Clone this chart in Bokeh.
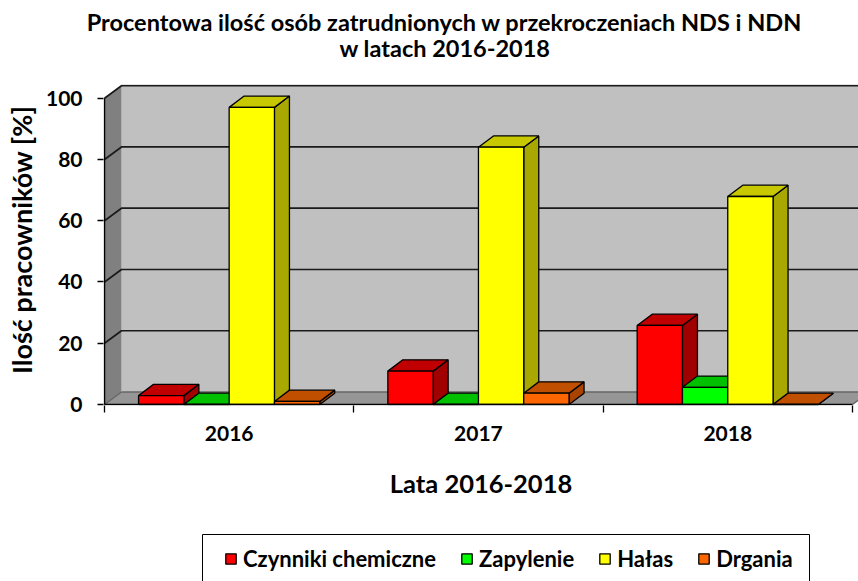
import math
from bokeh.plotting import figure
from bokeh.models import Range1d, FixedTicker, Legend, LegendItem
from bokeh.layouts import column, row
from bokeh.core.properties import value
from bokeh.embed import file_html
from bokeh.resources import INLINE

# ---------------- data ----------------
years = ["2016", "2017", "2018"]
series_names = ["Czynniki chemiczne", "Zapylenie", "Hałas", "Drgania"]
chem = [2.9, 10.9, 25.8]
dust = [0.0, 0.0, 5.6]
noise = [97.0, 84.0, 67.9]
vib = [1.0, 3.7, 0.0]
y_ticks = [0, 20, 40, 60, 80, 100]
title_1 = "Procentowa ilość osób zatrudnionych w przekroczeniach NDS i NDN"
title_2 = "w latach 2016-2018"
x_title = "Lata 2016-2018"
y_title = "Ilość pracowników [%]"

# ---------------- styles ----------------
values = [chem, dust, noise, vib]
front_colors = ["#FF0000", "#00FF00", "#FFFF00", "#FF6600"]
top_colors = ["#C00000", "#00C000", "#C8C800", "#C05000"]
side_colors = ["#A00000", "#00A000", "#A8A800", "#A84400"]
FONT = "Lato"

PX_X = 249.3   # pixels per category
PX_Y = 3.063   # pixels per percent
n = len(years)
ns = len(series_names)
bw = 45.3 / PX_X
gap = (1 - ns * bw) / 2
dxb, dyb = 15 / PX_X, 11.3 / PX_Y      # bar depth
dxw, dyw = 17 / PX_X, 12.5 / PX_Y      # wall depth
ymax = y_ticks[-1]

W_TOT, H_TOT = 858, 581
W_Y = 42                    # y-title strip
W_C = W_TOT - W_Y           # chart
H_T = 84                    # title strip
H_L = 61                    # legend strip
H_C = H_TOT - H_L - H_T     # chart
frame_w, frame_h = 755, 321
x_start = -1 / PX_X
y_start = -1 / PX_Y


def blank(w, h):
    f = figure(width=w, height=h, x_range=Range1d(0, w), y_range=Range1d(0, h),
               output_backend="svg", toolbar_location=None, title_location=None,
               x_axis_location=None, y_axis_location=None,
               min_border_left=0, min_border_right=0, min_border_top=0, min_border_bottom=0)
    f.outline_line_color = None
    f.xgrid.visible = False
    f.ygrid.visible = False
    return f


# ---------------- chart ----------------
p = figure(width=W_C, height=H_C,
           x_range=Range1d(x_start, x_start + frame_w / PX_X),
           y_range=Range1d(y_start, y_start + frame_h / PX_Y),
           output_backend="svg", toolbar_location=None, title_location=None,
           min_border_left=W_C - frame_w, min_border_right=0,
           min_border_top=0, min_border_bottom=H_C - frame_h)
p.outline_line_color = None
p.xgrid.visible = False
p.ygrid.visible = False
p.background_fill_color = "white"
p.border_fill_color = "white"

# walls & floor
p.quad(left=[dxw], right=[n + dxw + 0.2], bottom=[dyw], top=[ymax + dyw],
       fill_color="#C0C0C0", line_color=None)
p.patch([0, dxw, dxw, 0], [0, dyw, ymax + dyw, ymax],
        fill_color="#808080", line_color=None)
p.patch([0, n, n + dxw, dxw], [0, 0, dyw, dyw],
        fill_color="#969696", line_color=None)
p.multi_line([[dxw, n + dxw], [0, dxw], [n, n + dxw]],
             [[dyw, dyw], [0, dyw], [0, dyw]],
             line_color="#666666", line_width=1.5)
gx, gy = [], []
for v in y_ticks[1:]:
    gx.append([0, dxw, n + dxw + 0.2])
    gy.append([v, v + dyw, v + dyw])
p.multi_line(gx, gy, line_color="#1a1a1a", line_width=1.7)

# bars (side, top, front), painted left to right
for j in range(ns):
    vals = values[j]
    x0 = [i + gap + j * bw for i in range(n)]
    x1 = [a + bw for a in x0]
    side_xs = [[b, b, b + dxb, b + dxb] for b in x1]
    side_ys = [[0, h, h + dyb, dyb] for h in vals]
    top_xs = [[a, b, b + dxb, a + dxb] for a, b in zip(x0, x1)]
    top_ys = [[h, h, h + dyb, h + dyb] for h in vals]
    p.patches(side_xs, side_ys, fill_color=side_colors[j], line_color="black", line_width=1.3)
    p.patches(top_xs, top_ys, fill_color=top_colors[j], line_color="black", line_width=1.3)
    p.quad(left=x0, right=x1, bottom=[0] * n, top=vals,
           fill_color=front_colors[j], line_color="black", line_width=1.3)

p.line([0, 0], [0, ymax], line_color="black", line_width=1.5)
p.line([0, n], [0, 0], line_color="black", line_width=1.5)

# axes
xa = p.xaxis[0]
xa.ticker = FixedTicker(ticks=[i + 0.5 for i in range(n)], minor_ticks=list(range(n + 1)))
xa.major_label_overrides = {i + 0.5: years[i] for i in range(n)}
xa.axis_line_color = None
xa.major_tick_out = 0
xa.major_tick_in = 0
xa.minor_tick_out = 7
xa.minor_tick_in = 0
xa.minor_tick_line_color = "black"
xa.minor_tick_line_width = 1.3
xa.major_label_standoff = 13
xa.major_label_text_font = FONT
xa.major_label_text_font_style = "bold"
xa.major_label_text_font_size = "21px"
xa.major_label_text_color = "black"
xa.axis_label = x_title
xa.axis_label_standoff = 24
xa.axis_label_text_font = FONT
xa.axis_label_text_font_style = "bold"
xa.axis_label_text_font_size = "25.5px"
xa.axis_label_text_color = "black"

ya = p.yaxis[0]
ya.ticker = FixedTicker(ticks=y_ticks, minor_ticks=[])
ya.axis_line_color = None
ya.major_tick_out = 6
ya.major_tick_in = 0
ya.major_tick_line_color = "black"
ya.major_tick_line_width = 1.5
ya.major_label_standoff = 15
ya.major_label_text_font = FONT
ya.major_label_text_font_style = "bold"
ya.major_label_text_font_size = "21px"
ya.major_label_text_color = "black"

# ---------------- title strip ----------------
pt = blank(W_TOT, H_T)
pt.text(x=[444, 444.5], y=[H_T - 21.5, H_T - 47], text=[title_1, title_2],
        text_align="center", text_baseline="alphabetic",
        text_font=value(FONT), text_font_style="bold", text_font_size="23.5px",
        text_color="black")

# ---------------- y title strip ----------------
py = blank(W_Y, H_C)
py.text(x=[21], y=[225], text=[y_title], angle=math.pi / 2,
        text_align="center", text_baseline="middle",
        text_font=value(FONT), text_font_style="bold", text_font_size="27px",
        text_color="black")

# ---------------- legend strip ----------------
pl = blank(W_TOT, H_L)
pl.quad(left=[202], right=[809], bottom=[-20], top=[H_L - 14],
        fill_color="white", line_color="black", line_width=1)
items = []
for j in range(ns):
    # off-screen proxy glyphs: only their styling is used by the legend
    r = pl.quad(left=[-50], right=[-40], bottom=[-50], top=[-40],
                fill_color=front_colors[j], line_color="black", line_width=1.3)
    items.append(LegendItem(label=series_names[j], renderers=[r]))
legend = Legend(items=items, orientation="horizontal", location=(224, 9),
                border_line_color=None, background_fill_alpha=0,
                glyph_width=13, glyph_height=13, label_standoff=6, spacing=24,
                padding=0, margin=0,
                label_text_font=FONT, label_text_font_style="bold",
                label_text_font_size="22px", label_text_color="black")
pl.add_layout(legend, "center")

layout = column(pt, row(py, p, spacing=0), pl, spacing=0)
open("out.html", "w").write(file_html(layout, INLINE))
